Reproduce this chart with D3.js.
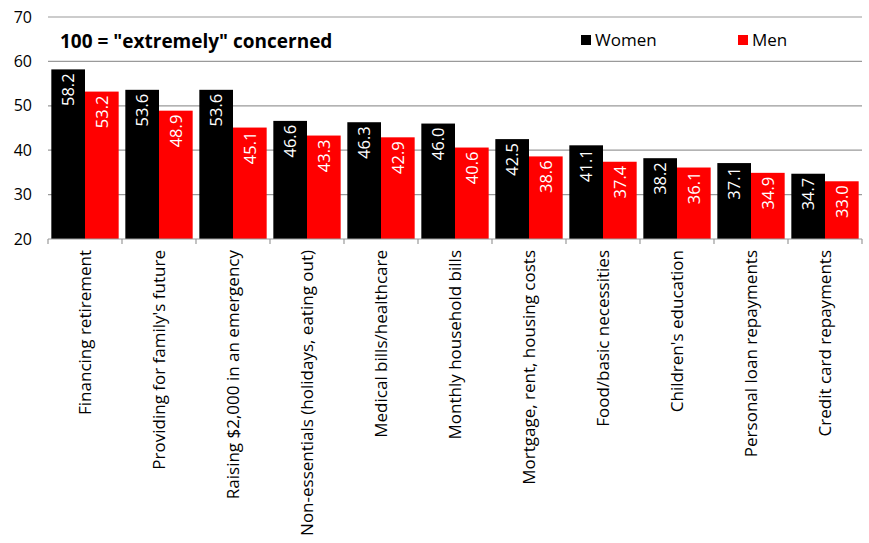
<!DOCTYPE html>
<html>
<head>
<meta charset="utf-8">
<script src="https://cdn.jsdelivr.net/npm/d3@7/dist/d3.min.js"></script>
<style>
  body { margin: 0; background: #fff; }
  svg { display: block; font-family: "Open Sans", "Noto Sans", sans-serif; }
</style>
</head>
<body>
<svg id="chart" width="869" height="543"></svg>
<script>
const categories = [
  "Financing retirement",
  "Providing for family's future",
  "Raising $2,000 in an emergency",
  "Non-essentials (holidays, eating out)",
  "Medical bills/healthcare",
  "Monthly household bills",
  "Mortgage, rent, housing costs",
  "Food/basic necessities",
  "Children's education",
  "Personal loan repayments",
  "Credit card repayments"
];
const women = [58.2, 53.6, 53.6, 46.6, 46.3, 46.0, 42.5, 41.1, 38.2, 37.1, 34.7];
const men   = [53.2, 48.9, 45.1, 43.3, 42.9, 40.6, 38.6, 37.4, 36.1, 34.9, 33.0];
const yTicks = [20, 30, 40, 50, 60, 70];
const seriesNames = ["Women", "Men"];
const seriesColors = ["#000000", "#ff0000"];

const svg = d3.select("#chart");
const margin = { left: 48, right: 7, top: 17, bottom: 304 };
const W = 869, H = 543;

const x = d3.scaleBand().domain(categories)
  .range([margin.left, W - margin.right]).paddingInner(0.09).paddingOuter(0.045);
const xs = d3.scaleBand().domain(seriesNames).range([0, x.bandwidth()]);
const y = d3.scaleLinear().domain([20, 70]).range([H - margin.bottom, margin.top]);

// horizontal gridlines
svg.append("g").selectAll("line").data(yTicks.filter(t => t > 20)).join("line")
  .attr("x1", margin.left).attr("x2", W - margin.right)
  .attr("y1", d => y(d)).attr("y2", d => y(d))
  .attr("stroke", "#9a9a9a").attr("stroke-width", 1.2);

// y axis labels
svg.append("g").selectAll("text").data(yTicks).join("text")
  .attr("x", 32).attr("y", d => y(d)).attr("dy", "0.35em")
  .attr("text-anchor", "end").attr("font-size", 16).attr("fill", "#000")
  .text(d => d);

// bars
const groups = svg.append("g").selectAll("g").data(categories).join("g")
  .attr("transform", d => `translate(${x(d)},0)`);

const rows = categories.map((c, i) => [
  { s: "Women", v: women[i], c: seriesColors[0] },
  { s: "Men", v: men[i], c: seriesColors[1] }
]);

groups.each(function(cat, i) {
  const g = d3.select(this);
  g.selectAll("rect").data(rows[i]).join("rect")
    .attr("x", d => xs(d.s)).attr("width", xs.bandwidth())
    .attr("y", d => y(d.v)).attr("height", d => y(20) - y(d.v))
    .attr("fill", d => d.c);
  g.selectAll("text").data(rows[i]).join("text")
    .attr("transform", d => `translate(${xs(d.s) + xs.bandwidth() / 2},${y(d.v) + 4}) rotate(-90)`)
    .attr("text-anchor", "end").attr("dy", "0.35em")
    .attr("font-size", 16.5).attr("fill", "#fff")
    .text(d => d.v.toFixed(1));
});

// x axis line and ticks
const bottom = y(20);
svg.append("line").attr("x1", margin.left).attr("x2", W - margin.right)
  .attr("y1", bottom).attr("y2", bottom).attr("stroke", "#9a9a9a").attr("stroke-width", 1.2);
const tickXs = d3.range(categories.length + 1).map(i => margin.left + i * (W - margin.left - margin.right) / categories.length);
svg.append("g").selectAll("line").data(tickXs).join("line")
  .attr("x1", d => d).attr("x2", d => d)
  .attr("y1", bottom).attr("y2", bottom + 5)
  .attr("stroke", "#9a9a9a").attr("stroke-width", 1.2);

// category labels
svg.append("g").selectAll("text").data(categories).join("text")
  .attr("transform", d => `translate(${x(d) + x.bandwidth() / 2},${bottom + 11}) rotate(-90)`)
  .attr("text-anchor", "end").attr("dy", "0.35em")
  .attr("font-size", 17).attr("fill", "#000")
  .text(d => d);

// subtitle
svg.append("text").attr("x", 60).attr("y", 48)
  .attr("font-size", 19).attr("font-weight", "bold").attr("fill", "#000")
  .text('100 = "extremely" concerned');

// legend
const legendX = [581, 738];
seriesNames.forEach((n, i) => {
  svg.append("rect").attr("x", legendX[i]).attr("y", 35).attr("width", 10).attr("height", 10)
    .attr("fill", seriesColors[i]);
  svg.append("text").attr("x", legendX[i] + 14).attr("y", 40).attr("dy", "0.35em")
    .attr("font-size", 17).attr("fill", "#000").text(n);
});
</script>
</body>
</html>
